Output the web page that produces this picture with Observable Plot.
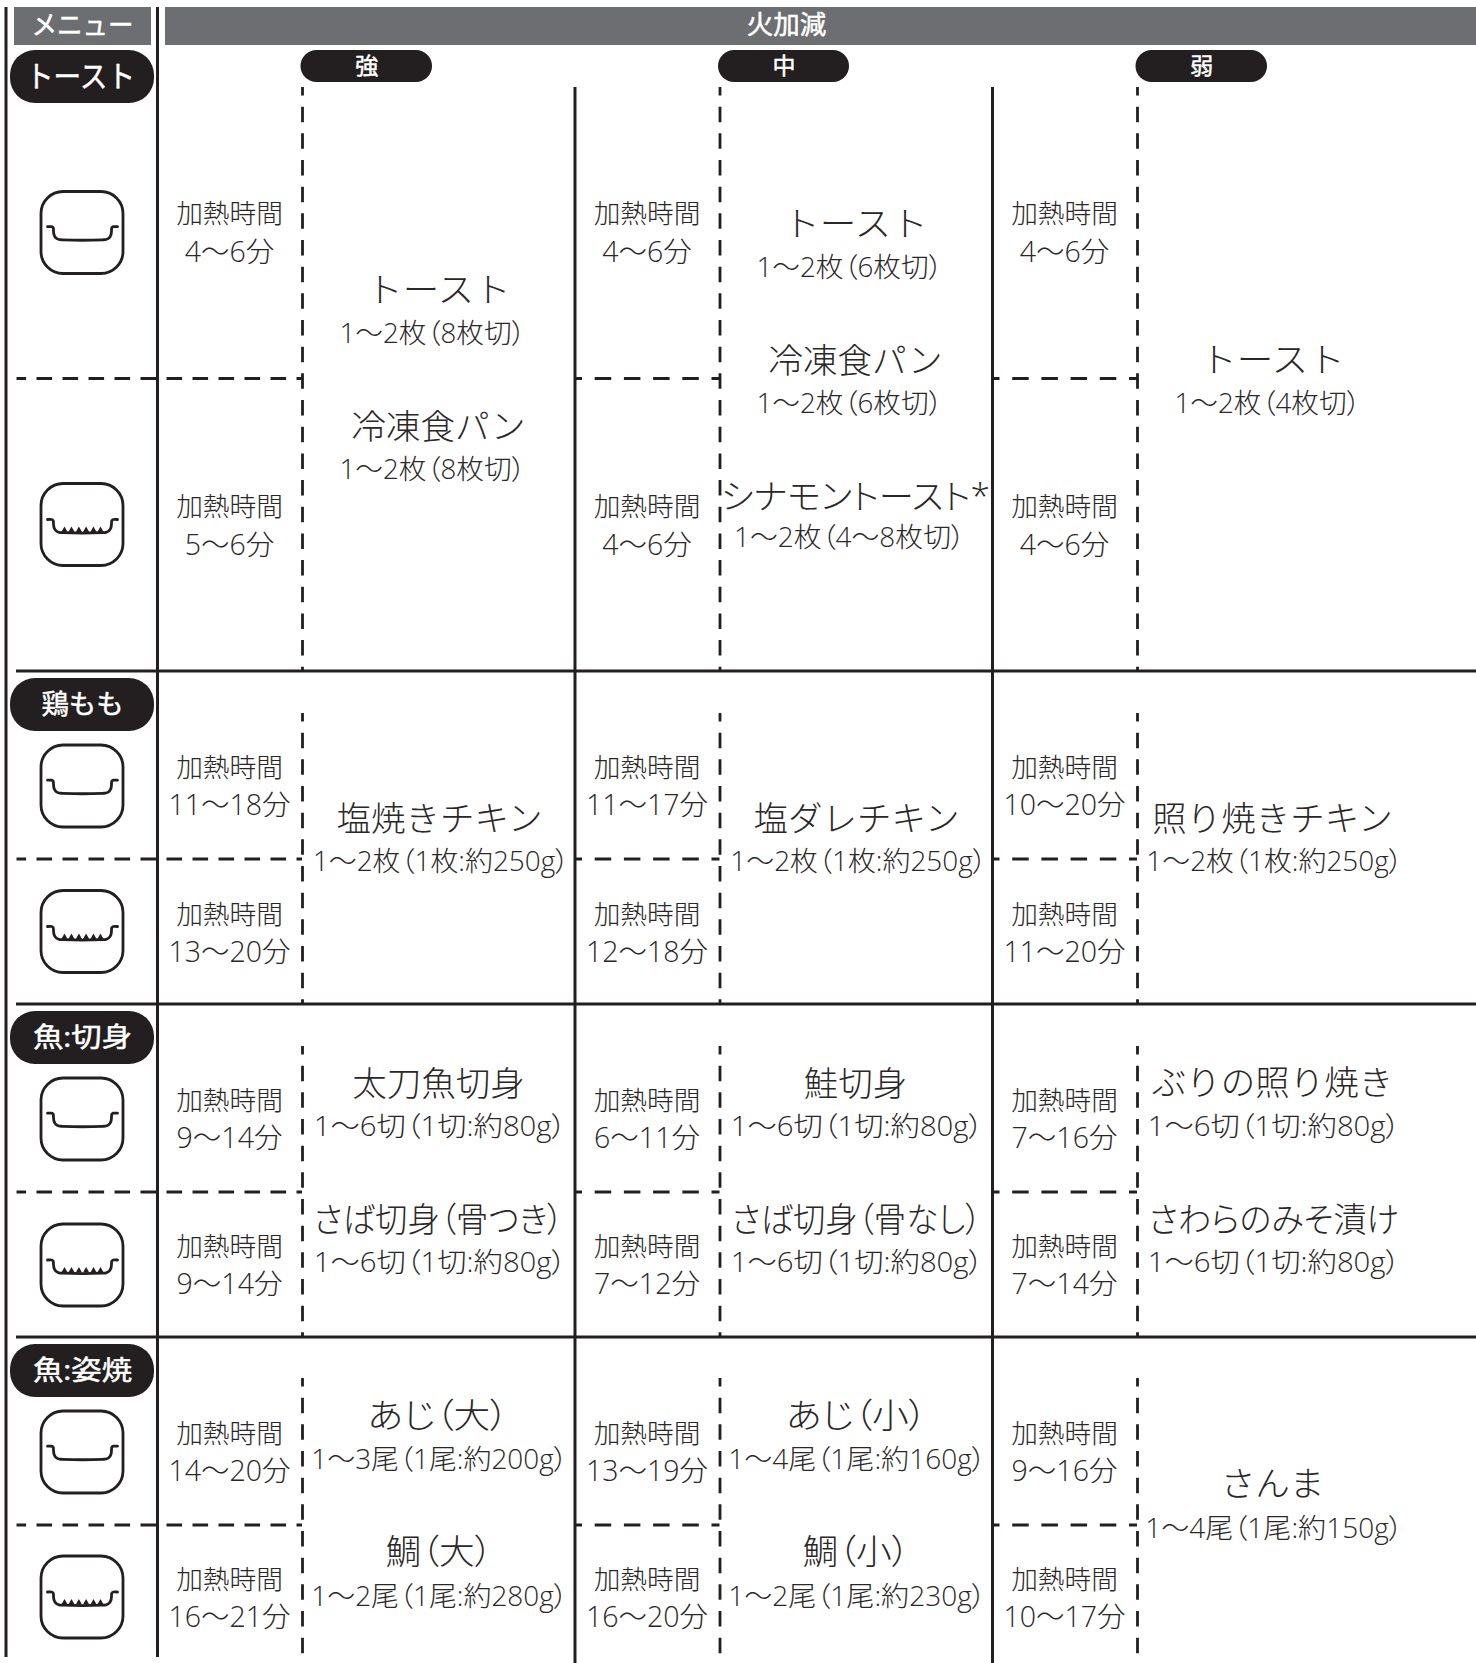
<!DOCTYPE html>
<html lang="ja">
<head>
<meta charset="utf-8">
<script src="https://cdn.jsdelivr.net/npm/d3@7"></script>
<script src="https://cdn.jsdelivr.net/npm/@observablehq/plot@0.6"></script>
<style>html,body{margin:0;padding:0;background:#fff}svg{display:block}</style>
</head>
<body>
<div id="chart"></div>
<script>
// ---- values ----
const headerMenu = "メニュー";
const headerHeat = "火加減";
const menus = ["トースト", "鶏もも", "魚:切身", "魚:姿焼"];
const heats = ["強", "中", "弱"];
const timeLabel = "加熱時間";
// eight rows (two per menu), three heat levels
const timesHigh = ["4〜6分", "5〜6分", "11〜18分", "13〜20分", "9〜14分", "9〜14分", "14〜20分", "16〜21分"];
const timesMid  = ["4〜6分", "4〜6分", "11〜17分", "12〜18分", "6〜11分", "7〜12分", "13〜19分", "16〜20分"];
const timesLow  = ["4〜6分", "4〜6分", "10〜20分", "11〜20分", "7〜16分", "7〜14分", "9〜16分", "10〜17分"];
const dishNames = ["トースト", "冷凍食パン", "トースト", "冷凍食パン", "シナモントースト*", "トースト",
  "塩焼きチキン", "塩ダレチキン", "照り焼きチキン",
  "太刀魚切身", "さば切身（骨つき）", "鮭切身", "さば切身（骨なし）", "ぶりの照り焼き", "さわらのみそ漬け",
  "あじ（大）", "鯛（大）", "あじ（小）", "鯛（小）", "さんま"];
const dishAmounts = ["1〜2枚（8枚切）", "1〜2枚（8枚切）", "1〜2枚（6枚切）", "1〜2枚（6枚切）", "1〜2枚（4〜8枚切）", "1〜2枚（4枚切）",
  "1〜2枚（1枚:約250g）", "1〜2枚（1枚:約250g）", "1〜2枚（1枚:約250g）",
  "1〜6切（1切:約80g）", "1〜6切（1切:約80g）", "1〜6切（1切:約80g）", "1〜6切（1切:約80g）", "1〜6切（1切:約80g）", "1〜6切（1切:約80g）",
  "1〜3尾（1尾:約200g）", "1〜2尾（1尾:約280g）", "1〜4尾（1尾:約160g）", "1〜2尾（1尾:約230g）", "1〜4尾（1尾:約150g）"];
const rowHasTeeth = [false, true, false, true, false, true, false, true];

// ---- layout of the table (separate from the values) ----
const W = 1476, H = 1663;
const dark = "#231f20", grey = "#6d6e71", ink = "#2b2728";
const cjk = "'Open Sans','Noto Sans CJK JP',sans-serif";
const colStart = [157, 574.5, 992];
const dashX = [302, 719.5, 1137];
const timeX = [229, 646.5, 1064];
const rowIconY = [232.5, 524.5, 786, 931.5, 1119, 1265, 1452, 1597];
const timeLine1Y = [214, 507, 768, 915, 1101, 1247, 1434, 1580];
const timeLine2Y = [252, 545, 805, 952, 1138, 1284, 1471, 1617];
const solidY = [670.5, 1003.5, 1336.5];
const midDashY = [378, 858.5, 1191.5, 1524.5];
const dashRuns = [[87, 671], [713, 1004], [1046, 1337], [1378, 1663]];
const menuPillY = [[50, 103], [678, 731], [1011, 1064], [1344, 1397]];
const menuTextSize = [30, 27, 27, 27];
const menuTextX = [80, 82, 82, 82];
const heatPillX = [[300.5, 432], [718, 849], [1135.5, 1267]];
const dishPos = [ // [title x, title y, amount x, amount y]
  [438, 290, 432, 334], [438, 427, 432, 470],
  [855, 224, 849, 268], [855, 361, 849, 404], [855, 497, 849, 538], [1272, 360, 1267, 404],
  [439, 819, 440.5, 862], [856, 819, 858, 862], [1272, 819, 1274, 862],
  [438, 1084, 439.5, 1127], [438, 1220, 439.5, 1263], [855, 1084, 856.5, 1127], [856, 1220, 856.5, 1263], [1272, 1083, 1273.5, 1127], [1273, 1220, 1273.5, 1263],
  [437.5, 1416, 439, 1460], [438.5, 1552, 439, 1597], [856, 1416, 856.5, 1460], [855.5, 1552, 856.5, 1597], [1272, 1484, 1273.5, 1529]
];
// rendered widths of the labels that the source typesets tighter or looser
const textWidths = new Map([
  ["トースト", 144.5], ["シナモントースト*", 269], ["さば切身（骨つき）", 250], ["さば切身（骨なし）", 250],
  ["さわらのみそ漬け", 250], ["あじ（大）", 141], ["あじ（小）", 141], ["鯛（大）", 107], ["鯛（小）", 107],
  ["1〜2枚（8枚切）", 186], ["1〜2枚（6枚切）", 186], ["1〜2枚（4枚切）", 186], ["1〜2枚（4〜8枚切）", 231],
  ["1〜2枚（1枚:約250g）", 256.5], ["1〜6切（1切:約80g）", 252.5],
  ["1〜3尾（1尾:約200g）", 256.5], ["1〜2尾（1尾:約280g）", 256.5], ["1〜4尾（1尾:約160g）", 257.5], ["1〜2尾（1尾:約230g）", 257.5], ["1〜4尾（1尾:約150g）", 257.5]
]);
const pillWidths = new Map([["トースト", 109], ["魚:切身", 99], ["魚:姿焼", 99], ["鶏もも", 82], ["メニュー", 102]]);
const proportional = new Set(["シナモントースト*", "さわらのみそ漬け"]);
const iconHalf = 41, iconR = 22;
// outline of the pan, offsets from the icon centre
const panHalf = [[-35, -6.3], [-30.8, -6.3], [-29.3, -5.2], [-29, -2], [-28.4, 2], [-26.5, 5], [-23.5, 6.5], [-20, 6.8]];
const panOutline = [...panHalf, ...panHalf.slice().reverse().map(([x, y]) => [-x, y])];
const teethOffsets = [-18, -11, -3.6, 3.6, 11, 18];

// ---- tables built for the marks ----
const solidCols = [
  {x: 5.5, y1: 7, y2: 1657}, {x: colStart[0], y1: 7, y2: 1657},
  {x: colStart[1], y1: 87, y2: H}, {x: colStart[2], y1: 87, y2: H}
];
const dashCols = dashX.flatMap(x => dashRuns.map(([y1, y2]) => ({x, y1, y2})));
const dashRowsLeft = midDashY.map(y => ({y, x1: 16.5, x2: dashX[0]}));
const dashRowsInner = midDashY.flatMap(y => [[colStart[1], dashX[1]], [colStart[2], dashX[2]]].map(([x1, x2]) => ({y, x1, x2})));
const timeCells = [timesHigh, timesMid, timesLow].flatMap((col, c) => col.map((t, r) => ({t, x: timeX[c], y1: timeLine1Y[r], y2: timeLine2Y[r]})));
const dishes = dishNames.map((name, i) => ({name, amount: dishAmounts[i], tx: dishPos[i][0], ty: dishPos[i][1], ax: dishPos[i][2], ay: dishPos[i][3]}));
const iconX = 82;
const icons = rowIconY.map(y => ({x1: iconX - iconHalf, x2: iconX + iconHalf, y1: y - iconHalf, y2: y + iconHalf}));
const panLines = rowIconY.flatMap((y, r) => panOutline.map(([dx, dy]) => ({x: iconX + dx, y: y + dy + (rowHasTeeth[r] ? 0.8 : 0), r})));
const teeth = rowIconY.flatMap((y, r) => rowHasTeeth[r] ? teethOffsets.map(dx => ({x: iconX + dx, y: y + 5.2})) : []);

const chart = Plot.plot({
  width: W, height: H,
  marginTop: 0, marginRight: 0, marginBottom: 0, marginLeft: 0,
  x: {domain: [0, W], range: [0, W], axis: null},
  y: {domain: [0, H], range: [0, H], axis: null},
  style: {background: "#fff", fontFamily: cjk},
  marks: [
    // header bars
    Plot.rect([{x1: 14, x2: 151, y1: 7, y2: 45}, {x1: 165, x2: W, y1: 7, y2: 45}], {x1: "x1", x2: "x2", y1: "y1", y2: "y2", fill: grey}),
    Plot.text([{t: headerMenu, x: 82}, {t: headerHeat, x: 786}], {x: "x", y: () => 25.5, text: "t", fill: "#fff", stroke: "#fff", strokeWidth: 0.5, fontSize: d => d.t === headerMenu ? 27 : 26.5, fontFamily: cjk}),
    // grid
    Plot.ruleX(solidCols, {x: "x", y1: "y1", y2: "y2", stroke: dark, strokeWidth: 3}),
    Plot.ruleX(dashCols, {x: "x", y1: "y1", y2: "y2", stroke: dark, strokeWidth: 2.8, strokeDasharray: "15.5 11.17", strokeDashoffset: 7}),
    Plot.ruleY(solidY, {y: d => d, x1: 16, x2: W, stroke: dark, strokeWidth: 3}),
    Plot.ruleY(dashRowsLeft, {y: "y", x1: "x1", x2: "x2", stroke: dark, strokeWidth: 2.8, strokeDasharray: "15.6 10.4", strokeDashoffset: 6}),
    Plot.ruleY(dashRowsInner, {y: "y", x1: "x1", x2: "x2", stroke: dark, strokeWidth: 2.8, strokeDasharray: "16.5 12.7", strokeDashoffset: 9}),
    // menu pills
    Plot.rect(menus.map((m, i) => ({x1: 10, x2: 154, y1: menuPillY[i][0], y2: menuPillY[i][1]})), {x1: "x1", x2: "x2", y1: "y1", y2: "y2", fill: dark, rx: 25, ry: 25}),
    Plot.text(menus.map((m, i) => ({m, x: menuTextX[i], y: (menuPillY[i][0] + menuPillY[i][1]) / 2, s: menuTextSize[i]})), {x: "x", y: "y", text: "m", fill: "#fff", stroke: "#fff", strokeWidth: 0.5, fontSize: "s", fontFamily: cjk}),
    // heat pills
    Plot.rect(heats.map((h, i) => ({x1: heatPillX[i][0], x2: heatPillX[i][1]})), {x1: "x1", x2: "x2", y1: () => 50, y2: () => 82, fill: dark, rx: 16, ry: 16}),
    Plot.text(heats.map((h, i) => ({h, x: (heatPillX[i][0] + heatPillX[i][1]) / 2})), {x: "x", y: () => 66, text: "h", fill: "#fff", stroke: "#fff", strokeWidth: 0.5, fontSize: 23, fontFamily: cjk}),
    // pan icons
    Plot.rect(icons, {x1: "x1", x2: "x2", y1: "y1", y2: "y2", fill: "none", stroke: dark, strokeWidth: 2.8, rx: iconR, ry: iconR}),
    Plot.line(panLines, {x: "x", y: "y", z: "r", stroke: dark, strokeWidth: 2.8, curve: "catmull-rom"}),
    Plot.dot(teeth, {x: "x", y: "y", symbol: "triangle", r: 2.3, fill: dark, stroke: "none"}),
    // time labels
    Plot.text(timeCells, {x: "x", y: "y1", text: () => timeLabel, fontSize: 26.7, fill: ink, fontWeight: 300, fontFamily: cjk}),
    Plot.text(timeCells, {x: "x", y: "y2", text: "t", fontSize: 28.5, fill: ink, fontWeight: 300, fontFamily: cjk}),
    // dishes
    Plot.text(dishes, {x: "tx", y: "ty", text: "name", fontSize: 34.5, fill: ink, fontWeight: 300, fontFamily: cjk}),
    Plot.text(dishes, {x: "ax", y: "ay", text: "amount", fontSize: 27.5, fill: ink, fontWeight: 300, fontFamily: cjk})
  ]
});
for (const node of chart.querySelectorAll("text")) {
  const label = node.textContent;
  // pills carry their size on each text; dish labels inherit it from the mark
  const width = (node.hasAttribute("font-size") ? pillWidths : textWidths).get(label);
  if (width != null) {
    node.setAttribute("textLength", width);
    node.setAttribute("lengthAdjust", "spacingAndGlyphs");
  }
  if (label.includes("（") || proportional.has(label)) node.style.fontFeatureSettings = '"palt"';
}
document.getElementById("chart").append(chart);
</script>
</body>
</html>
